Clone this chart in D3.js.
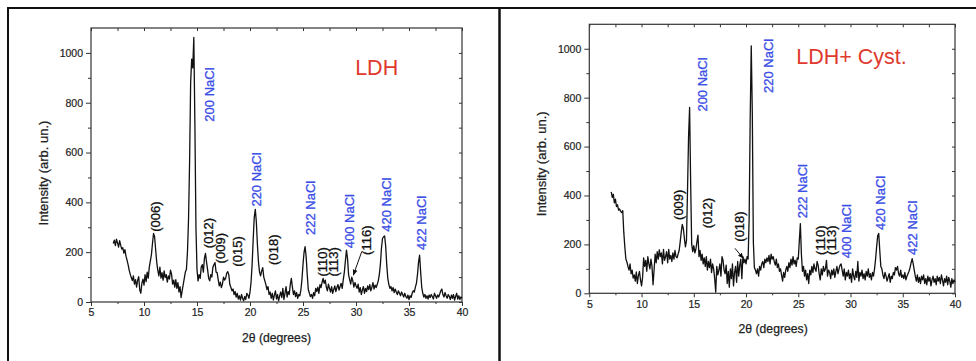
<!DOCTYPE html>
<html>
<head>
<meta charset="utf-8">
<script src="https://cdn.jsdelivr.net/npm/d3@7"></script>
<style>
  body { margin: 0; background: #fff; }
  svg { display: block; font-family: "Liberation Sans", Arial, sans-serif; }
  .axis path, .axis line { stroke: #333; }
  .axis text { font-size: 10.5px; fill: #222; stroke: #222; stroke-width: 0.2px; }
</style>
</head>
<body>
<svg id="chart" width="976" height="361"></svg>
<script>
// scan grid, 2theta from 7.1 to 40.0 deg in 0.1 deg steps
const twoTheta = d3.range(71, 401).map(i => i / 10);

// LDH pattern (arb. un.)
const ldhIntensity = [
  235, 248, 226, 252, 238, 220, 246, 228, 212,
  218, 196, 210, 184, 168, 150, 128, 112, 98, 86,
  105, 72, 90, 60, 88, 102, 48, 35, 76, 92,
  68, 110, 82, 120, 96, 140, 165, 190, 235, 275,
  262, 210, 160, 128, 105, 140, 96, 118, 88, 125,
  98, 110, 80, 105, 92, 128, 112, 72, 88, 60,
  90, 55, 78, 40, 62, 18, 45, 70, 95, 120,
  130, 200, 330, 560, 880, 975, 940, 1062, 720, 300,
  130, 85, 110, 95, 140, 150, 120, 175, 195, 160,
  130, 95, 85, 110, 100, 140, 150, 158, 120, 118,
  90, 65, 80, 58, 72, 100, 88, 95, 115, 122,
  110, 70, 58, 45, 52, 30, 42, 20, 35, 12,
  25, 8, 30, 15, 5, 22, 10, 35, 28, 15,
  40, 80, 150, 250, 340, 372, 320, 230, 160, 120,
  105, 125, 138, 100, 85, 70, 50, 62, 30, 40,
  15, 35, 8, 28, 45, 12, 30, 5, 25, 40,
  18, 55, 10, 35, 62, 20, 42, 30, 70, 95,
  60, 30, 45, 22, 38, 15, 30, 25, 48, 90,
  150, 200, 222, 180, 110, 50, 35, 22, 30, 15,
  38, 25, 55, 42, 60, 35, 70, 58, 80, 95,
  75, 88, 60, 45, 72, 55, 40, 62, 35, 50,
  65, 42, 58, 70, 48, 62, 75, 55, 90, 120,
  165, 208, 175, 110, 90, 72, 100, 85, 60, 78,
  65, 55, 72, 40, 58, 30, 48, 62, 35, 55,
  42, 65, 50, 70, 45, 60, 78, 52, 68, 58,
  70, 85, 110, 150, 215, 255, 262, 265, 225, 150,
  95, 70, 55, 62, 45, 58, 38, 52, 40, 30,
  45, 35, 25, 40, 30, 20, 35, 22, 15, 28,
  10, 25, 18, 35, 45, 40, 60, 75, 110, 160,
  188, 120, 60, 35, 20, 30, 15, 25, 12, 28,
  18, 30, 22, 12, 35, 25, 15, 28, 20, 32,
  45, 52, 30, 20, 38, 25, 15, 30, 22, 10,
  28, 15, 30, 8, 22, 35, 12, 25, 10, 20,
  15
];

// LDH + cysteine pattern (arb. un.)
const cystIntensity = [
  415, 392, 405, 370, 385, 355, 362, 340, 345,
  335, 330, 338, 250, 190, 140, 128, 110, 95, 120,
  80, 95, 62, 75, 50, 88, 40, 72, 90, 55,
  30, 65, 145, 110, 135, 90, 150, 120, 100, 140,
  110, 35, 95, 160, 125, 170, 140, 178, 150, 165,
  120, 180, 135, 150, 170, 125, 180, 140, 155, 130,
  165, 140, 175, 150, 145, 160, 175, 210, 250, 282,
  265, 225, 190, 215, 420, 640, 760, 450, 200, 170,
  195, 165, 180, 210, 238, 150, 175, 135, 160, 120,
  145, 110, 150, 95, 130, 105, 140, 85, 120, 100,
  60, 5, 110, 75, 95, 120, 70, 150, 135, 95,
  80, 115, 40, 90, 25, 100, 60, 120, 30, 85,
  110, 45, 130, 70, 115, 140, 60, 150, 125, 140,
  120, 150, 140, 310, 720, 1012, 740, 210, 105, 95,
  80, 100, 70, 110, 95, 120, 130, 105, 140, 125,
  145, 130, 155, 120, 160, 140, 150, 130, 115, 140,
  105, 120, 90, 100, 75, 50, 85, 65, 95, 110,
  90, 125, 105, 140, 115, 150, 120, 135, 110, 145,
  140, 215, 285, 160, 90, 110, 70, 95, 55, 80,
  40, 95, 75, 110, 85, 120, 100, 90, 130, 115,
  80, 55, 100, 75, 110, 90, 100, 135, 70, 95,
  85, 60, 95, 75, 100, 65, 90, 110, 80, 100,
  115, 120, 95, 70, 100, 55, 85, 70, 95, 60,
  80, 45, 100, 70, 55, 90, 65, 130, 50, 85,
  70, 95, 60, 80, 55, 90, 70, 100, 65, 80,
  55, 85, 70, 100, 140, 190, 235, 245, 175, 110,
  100, 75, 60, 85, 70, 50, 65, 80, 45, 70,
  60, 85, 75, 105, 95, 110, 80, 70, 95, 65,
  75, 60, 85, 55, 70, 80, 90, 105, 125, 142,
  120, 95, 70, 50, 75, 45, 65, 40, 70, 55,
  75, 40, 60, 35, 70, 50, 65, 30, 55, 70,
  45, 60, 35, 70, 50, 65, 40, 75, 55, 30,
  60, 45, 70, 35, 65, 50, 25, 60, 40, 55,
  45
];

// tick values
const xMajor = [5, 10, 15, 20, 25, 30, 35, 40];
const xMinor = [7.5, 12.5, 17.5, 22.5, 27.5, 32.5, 37.5];
const yMajor = [0, 200, 400, 600, 800, 1000];
const yMinor = [100, 300, 500, 700, 900];

// peak labels: text, 2theta, intensity at the foot of the label
const ldhLabelText = ['200 NaCl', '220 NaCl', '222 NaCl', '400 NaCl', '420 NaCl', '422 NaCl',
  '(006)', '(012)', '(009)', '(015)', '(018)', '(110)', '(113)', '(116)'];
const ldhLabelX = [16.16, 20.63, 25.66, 29.37, 32.9, 36.2, 11.04, 16.07, 17.23, 18.8, 22.2, 26.86, 27.86, 31.0];
const ldhLabelY = [724, 383, 269, 216, 282, 209, 282, 216, 155, 142, 149, 102, 102, 189];

const cystLabelText = ['200 NaCl', '220 NaCl', '222 NaCl', '400 NaCl', '420 NaCl', '422 NaCl',
  '(009)', '(012)', '(018)', '(110)', '(113)'];
const cystLabelX = [15.81, 22.13, 25.38, 29.63, 32.88, 35.91, 13.52, 16.29, 19.35, 27.08, 28.2];
const cystLabelY = [743, 819, 307, 143, 259, 157, 300, 266, 211, 157, 157];

const svg = d3.select('#chart');

// table borders around the two figures
svg.append('line').attr('x1', 7).attr('x2', 976).attr('y1', 8).attr('y2', 8)
  .attr('stroke', '#111').attr('stroke-width', 2);
svg.append('line').attr('x1', 8).attr('x2', 8).attr('y1', 7).attr('y2', 361)
  .attr('stroke', '#111').attr('stroke-width', 2);
svg.append('line').attr('x1', 499.5).attr('x2', 499.5).attr('y1', 7).attr('y2', 361)
  .attr('stroke', '#111').attr('stroke-width', 2.5);

svg.append('defs').append('marker')
  .attr('id', 'arrow').attr('viewBox', '0 0 10 10')
  .attr('refX', 9).attr('refY', 5)
  .attr('markerWidth', 6).attr('markerHeight', 6)
  .attr('orient', 'auto')
  .append('path').attr('d', 'M0,1 L10,5 L0,9 Z').attr('fill', '#111');

function drawPanel(p) {
  const x = d3.scaleLinear().domain([5, 40]).range([p.left, p.right]);
  const y = d3.scaleLinear().domain([0, 1100]).range([p.bottom, p.top]);
  const g = svg.append('g');

  // outward ticks on bottom / left, inward on top / right
  g.append('g').attr('class', 'axis').attr('transform', 'translate(0,' + p.bottom + ')')
    .call(d3.axisBottom(x).tickValues(xMajor).tickSize(4).tickSizeOuter(0).tickPadding(3).tickFormat(d3.format('d')));
  g.append('g').attr('class', 'axis').attr('transform', 'translate(0,' + p.bottom + ')')
    .call(d3.axisBottom(x).tickValues(xMinor).tickSize(2).tickSizeOuter(0).tickFormat(''));
  g.append('g').attr('class', 'axis').attr('transform', 'translate(' + p.left + ',0)')
    .call(d3.axisLeft(y).tickValues(yMajor).tickSize(5).tickSizeOuter(0).tickPadding(3).tickFormat(d3.format('d')));
  g.append('g').attr('class', 'axis').attr('transform', 'translate(' + p.left + ',0)')
    .call(d3.axisLeft(y).tickValues(yMinor).tickSize(3).tickSizeOuter(0).tickFormat(''));
  g.append('g').attr('class', 'axis').attr('transform', 'translate(0,' + p.top + ')')
    .call(d3.axisTop(x).tickValues(xMajor.concat(xMinor)).tickSize(-3).tickSizeOuter(0).tickFormat(''));
  g.append('g').attr('class', 'axis').attr('transform', 'translate(' + p.right + ',0)')
    .call(d3.axisRight(y).tickValues(yMajor.concat(yMinor)).tickSize(-3).tickSizeOuter(0).tickFormat(''));

  g.selectAll('.axis .domain').remove();
  g.append('rect')
    .attr('x', p.left).attr('y', p.top)
    .attr('width', p.right - p.left).attr('height', p.bottom - p.top)
    .attr('fill', 'none').attr('stroke', '#333').attr('stroke-width', 1.2);

  // the pattern
  const line = d3.line().x((d, i) => x(twoTheta[i])).y(d => y(d));
  g.append('path').datum(p.values)
    .attr('d', line)
    .attr('fill', 'none').attr('stroke', '#111').attr('stroke-width', 1.3).attr('stroke-linejoin', 'round');

  // peak labels, rotated
  g.selectAll('.peak').data(p.labelText).enter().append('text')
    .attr('class', 'peak')
    .attr('transform', (d, i) => 'translate(' + x(p.labelX[i]) + ',' + y(p.labelY[i]) + ') rotate(-90)')
    .attr('dy', '0.35em')
    .attr('font-size', 13)
    .attr('fill', d => d.indexOf('NaCl') >= 0 ? '#3b4ee6' : '#111')
    .attr('stroke', d => d.indexOf('NaCl') >= 0 ? '#3b4ee6' : '#111')
    .attr('stroke-width', 0.3)
    .text(d => d);

  if (p.arrow) {
    g.append('line')
      .attr('x1', x(p.arrow[0])).attr('y1', y(p.arrow[1]))
      .attr('x2', x(p.arrow[2])).attr('y2', y(p.arrow[3]))
      .attr('stroke', '#111').attr('stroke-width', 1)
      .attr('marker-end', 'url(#arrow)');
  }

  // sample name
  g.append('text')
    .attr('x', x(p.nameX)).attr('y', y(p.nameY))
    .attr('text-anchor', 'middle')
    .attr('font-size', 21.5)
    .attr('fill', '#e03a2e')
    .text(p.name);

  // axis titles
  g.append('text')
    .attr('x', (p.left + p.right) / 2 + p.xTitleShift).attr('y', p.bottom + 40)
    .attr('text-anchor', 'middle').attr('font-size', 12.2).attr('fill', '#222')
    .attr('stroke', '#222').attr('stroke-width', 0.25)
    .text('2θ (degrees)');
  g.append('text')
    .attr('transform', 'translate(' + (p.left - 48) + ',' + ((p.top + p.bottom) / 2 + p.yTitleShift) + ') rotate(-90)')
    .attr('dy', '0.35em')
    .attr('text-anchor', 'middle').attr('font-size', 13).attr('fill', '#222')
    .attr('stroke', '#222').attr('stroke-width', 0.25)
    .text('Intensity (arb. un.)');
}

drawPanel({
  left: 91, right: 462, top: 28, bottom: 302,
  values: ldhIntensity,
  labelText: ldhLabelText, labelX: ldhLabelX, labelY: ldhLabelY,
  arrow: [30.54, 202, 29.75, 108],
  name: 'LDH', nameX: 31.95, nameY: 912,
  xTitleShift: 0, yTitleShift: 8
});

drawPanel({
  left: 589.3, right: 955, top: 24.3, bottom: 293.3,
  values: cystIntensity,
  labelText: cystLabelText, labelX: cystLabelX, labelY: cystLabelY,
  arrow: [18.94, 184, 19.74, 143],
  name: 'LDH+ Cyst.', nameX: 30.1, nameY: 939,
  xTitleShift: 1, yTitleShift: 5
});
</script>
</body>
</html>
